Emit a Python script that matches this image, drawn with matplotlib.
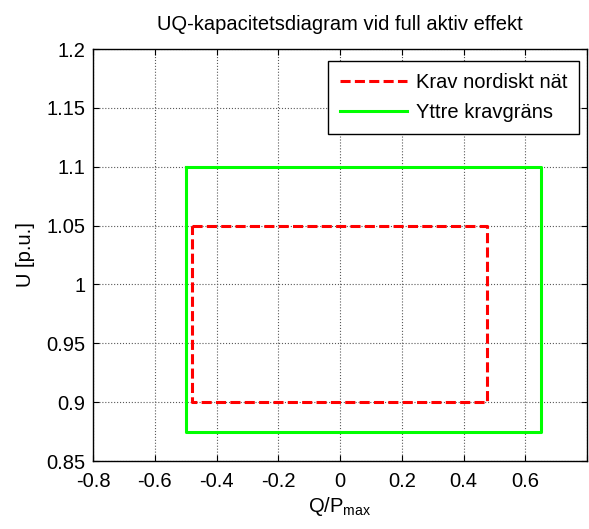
import matplotlib
matplotlib.use("Agg")
import matplotlib.pyplot as plt

plt.rcParams["font.family"] = ["Liberation Sans", "DejaVu Sans"]
plt.rcParams["mathtext.fontset"] = "custom"
plt.rcParams["mathtext.rm"] = "Liberation Sans"
plt.rcParams["mathtext.it"] = "Liberation Sans:italic"

# ------------------------------------------------------------
# data
# ------------------------------------------------------------
nordic_q = [-0.48, 0.475, 0.475, -0.48, -0.48]
nordic_u = [1.05, 1.05, 0.90, 0.90, 1.05]

outer_q = [-0.50, 0.65, 0.65, -0.50, -0.50]
outer_u = [1.10, 1.10, 0.875, 0.875, 1.10]

x_ticks = [-0.8, -0.6, -0.4, -0.2, 0, 0.2, 0.4, 0.6, 0.8]
x_labels = ["-0.8", "-0.6", "-0.4", "-0.2", "0", "0.2", "0.4", "0.6", ""]
y_ticks = [0.85, 0.9, 0.95, 1.0, 1.05, 1.1, 1.15, 1.2]
y_labels = ["0.85", "0.9", "0.95", "1", "1.05", "1.1", "1.15", "1.2"]

FS = 14.5

fig = plt.figure(figsize=(5.89, 5.29), dpi=100)
ax = fig.add_axes([0.158, 0.1285, 0.8387, 0.7788])

ax.plot(nordic_q, nordic_u, color="#ff0000", linestyle="--", linewidth=2.2,
        dashes=(3.3, 1.4), label="Krav nordiskt nät")
ax.plot(outer_q, outer_u, color="#00ff00", linewidth=2.2, label="Yttre kravgräns")

ax.set_xlim(-0.8, 0.8)
ax.set_ylim(0.85, 1.2)
ax.set_xticks(x_ticks)
ax.set_xticklabels(x_labels)
ax.set_yticks(y_ticks)
ax.set_yticklabels(y_labels)
ax.tick_params(direction="in", labelsize=FS, length=4, top=True, right=True)
ax.tick_params(axis="x", pad=8)
ax.tick_params(axis="y", pad=5.5)
ax.grid(True, color="0.35", linestyle=":", linewidth=0.8)
for s in ax.spines.values():
    s.set_linewidth(1.0)

ax.set_xlabel(r"Q/P$_{\rm max}$", fontsize=FS, labelpad=3)
ax.set_ylabel("U [p.u.]", fontsize=FS, labelpad=8)
ax.set_title("UQ-kapacitetsdiagram vid full aktiv effekt", fontsize=FS, pad=14)

leg = ax.legend(loc="upper right", bbox_to_anchor=(0.984, 0.971), borderaxespad=0,
                fontsize=FS, fancybox=False, framealpha=1, edgecolor="black",
                handlelength=3.3, handletextpad=0.45, borderpad=0.6,
                labelspacing=0.55)
leg.get_frame().set_linewidth(1.0)

fig.savefig("out.png", dpi=100)
